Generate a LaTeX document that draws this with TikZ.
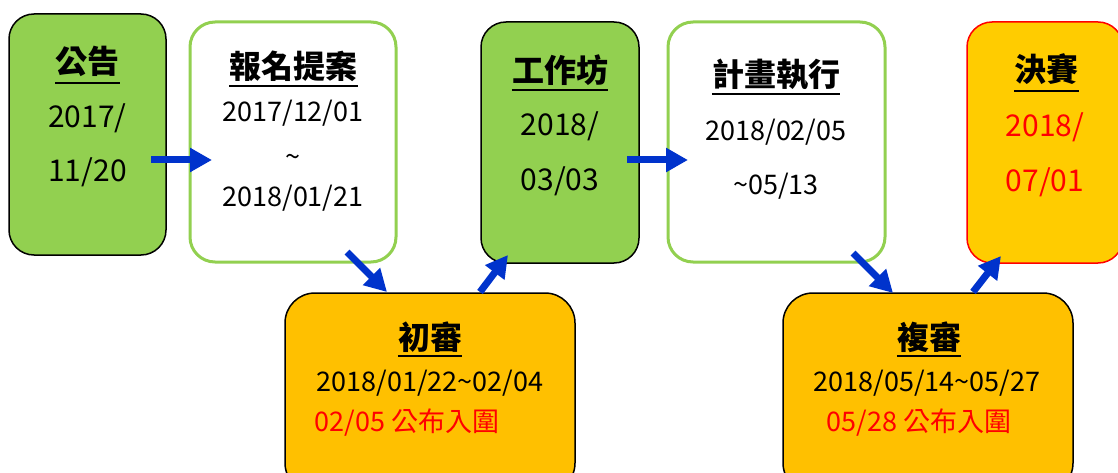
\documentclass[tikz,border=0pt]{standalone}
\usepackage{fontspec}
\setmainfont{Noto Sans CJK TC}
\usetikzlibrary{arrows.meta,calc}
\definecolor{grn}{HTML}{92D050}
\definecolor{org}{HTML}{FFC000}
\definecolor{yel}{HTML}{FFCC00}
\definecolor{blu}{HTML}{0033CC}
\definecolor{rd}{HTML}{FF0000}
\newcommand{\tld}{\char"7E\relax}
\begin{document}
\begin{tikzpicture}[x=1pt,y=-1pt,
  boxbase/.style={rounded corners=25pt, inner sep=0pt, outer sep=0pt},
  gbox/.style={boxbase, draw=black, line width=1.5pt, fill=grn},
  wbox/.style={boxbase, draw=grn, line width=3pt, fill=white},
  obox/.style={boxbase, rounded corners=30pt, draw=black, line width=1.5pt, fill=org},
  ybox/.style={boxbase, draw=rd, line width=1.5pt, fill=yel},
  ttl/.style={inner sep=0pt, anchor=base, font=\bfseries\fontsize{32pt}{36pt}\selectfont},
  dbig/.style={inner sep=0pt, anchor=base, font=\fontsize{30pt}{36pt}\selectfont},
  dsm/.style={inner sep=0pt, anchor=base, font=\fontsize{27pt}{32pt}\selectfont},
  uline/.style={line width=2.2pt, black},
  arr/.style={blu, line width=7pt, -{Triangle[length=22pt,width=23pt]}}
]
\useasboundingbox (0,0) rectangle (1118,473);
\clip (0,0) rectangle (1118,473);

% boxes
\node[gbox, minimum width=157pt, minimum height=241pt] (b1) at (87.5,134.5) {};
\node[wbox, minimum width=206pt, minimum height=240pt] (b2) at (293,142) {};
\node[gbox, minimum width=158pt, minimum height=241pt] (b3) at (560,142.5) {};
\node[wbox, minimum width=217pt, minimum height=240pt] (b4) at (776.5,142) {};
\node[ybox, minimum width=156pt, minimum height=241pt] (b5) at (1045,142.5) {};
\node[obox, minimum width=290pt, minimum height=200pt] (b6) at (430,393) {};
\node[obox, minimum width=290pt, minimum height=200pt] (b7) at (928,393) {};

% titles
\node[ttl] (t1) at (87.5,74) {公告};
\node[ttl] (t2) at (293.5,79) {報名提案};
\node[ttl] (t3) at (560,83) {工作坊};
\node[ttl] (t4) at (776,87) {計畫執行};
\node[ttl] (t5) at (1046.5,82) {決賽};
\node[ttl] (t6) at (430,349) {初審};
\node[ttl] (t7) at (929,349) {複審};
\foreach \t/\d in {t1/9, t2/7, t3/7, t4/7, t5/9, t6/7, t7/7}{
  \draw[uline] ([yshift=-\d pt]\t.base west) -- ([yshift=-\d pt]\t.base east);
}

% dates
\node[dbig] (d1a) at (87.5,128) {2017/};
\node[dbig] (d1b) at (87.5,182) {11/20};
\node[dsm] (d2a) at (293,121.5) {2017/12/01};
\node[dsm] (d2b) at (293,167) {\tld};
\node[dsm] (d2c) at (293,206.5) {2018/01/21};
\node[dbig] (d3a) at (560,136) {2018/};
\node[dbig] (d3b) at (560,190) {03/03};
\node[dsm] (d4a) at (776,140.5) {2018/02/05};
\node[dsm] (d4b) at (776,194.5) {\tld 05/13};
\node[dbig, text=rd] (d5a) at (1045,137) {2018/};
\node[dbig, text=rd] (d5b) at (1045,191) {07/01};
\node[dsm] (d6a) at (430,391.5) {2018/01/22\tld 02/04};
\node[dsm, text=rd] (d6b) at (407,431.5) {02/05 公布入圍};
\node[dsm] (d7a) at (927,391.5) {2018/05/14\tld 05/27};
\node[dsm, text=rd] (d7b) at (919,431.5) {05/28 公布入圍};

% arrow end points
\coordinate (a1s) at (151,160); \coordinate (a1e) at (212,160);
\coordinate (a2s) at (627,160); \coordinate (a2e) at (688,160);
\coordinate (c1s) at (347,252); \coordinate (c1e) at (387,292);
\coordinate (c2s) at (480,292); \coordinate (c2e) at (508,255);
\coordinate (c3s) at (853,253); \coordinate (c3e) at (893,293);
\coordinate (c4s) at (973,292); \coordinate (c4e) at (1001,256);
\foreach \s/\e in {a1s/a1e, a2s/a2e, c1s/c1e, c2s/c2e, c3s/c3e, c4s/c4e}{
  \draw[arr] (\s) -- (\e);
}
\end{tikzpicture}
\end{document}
